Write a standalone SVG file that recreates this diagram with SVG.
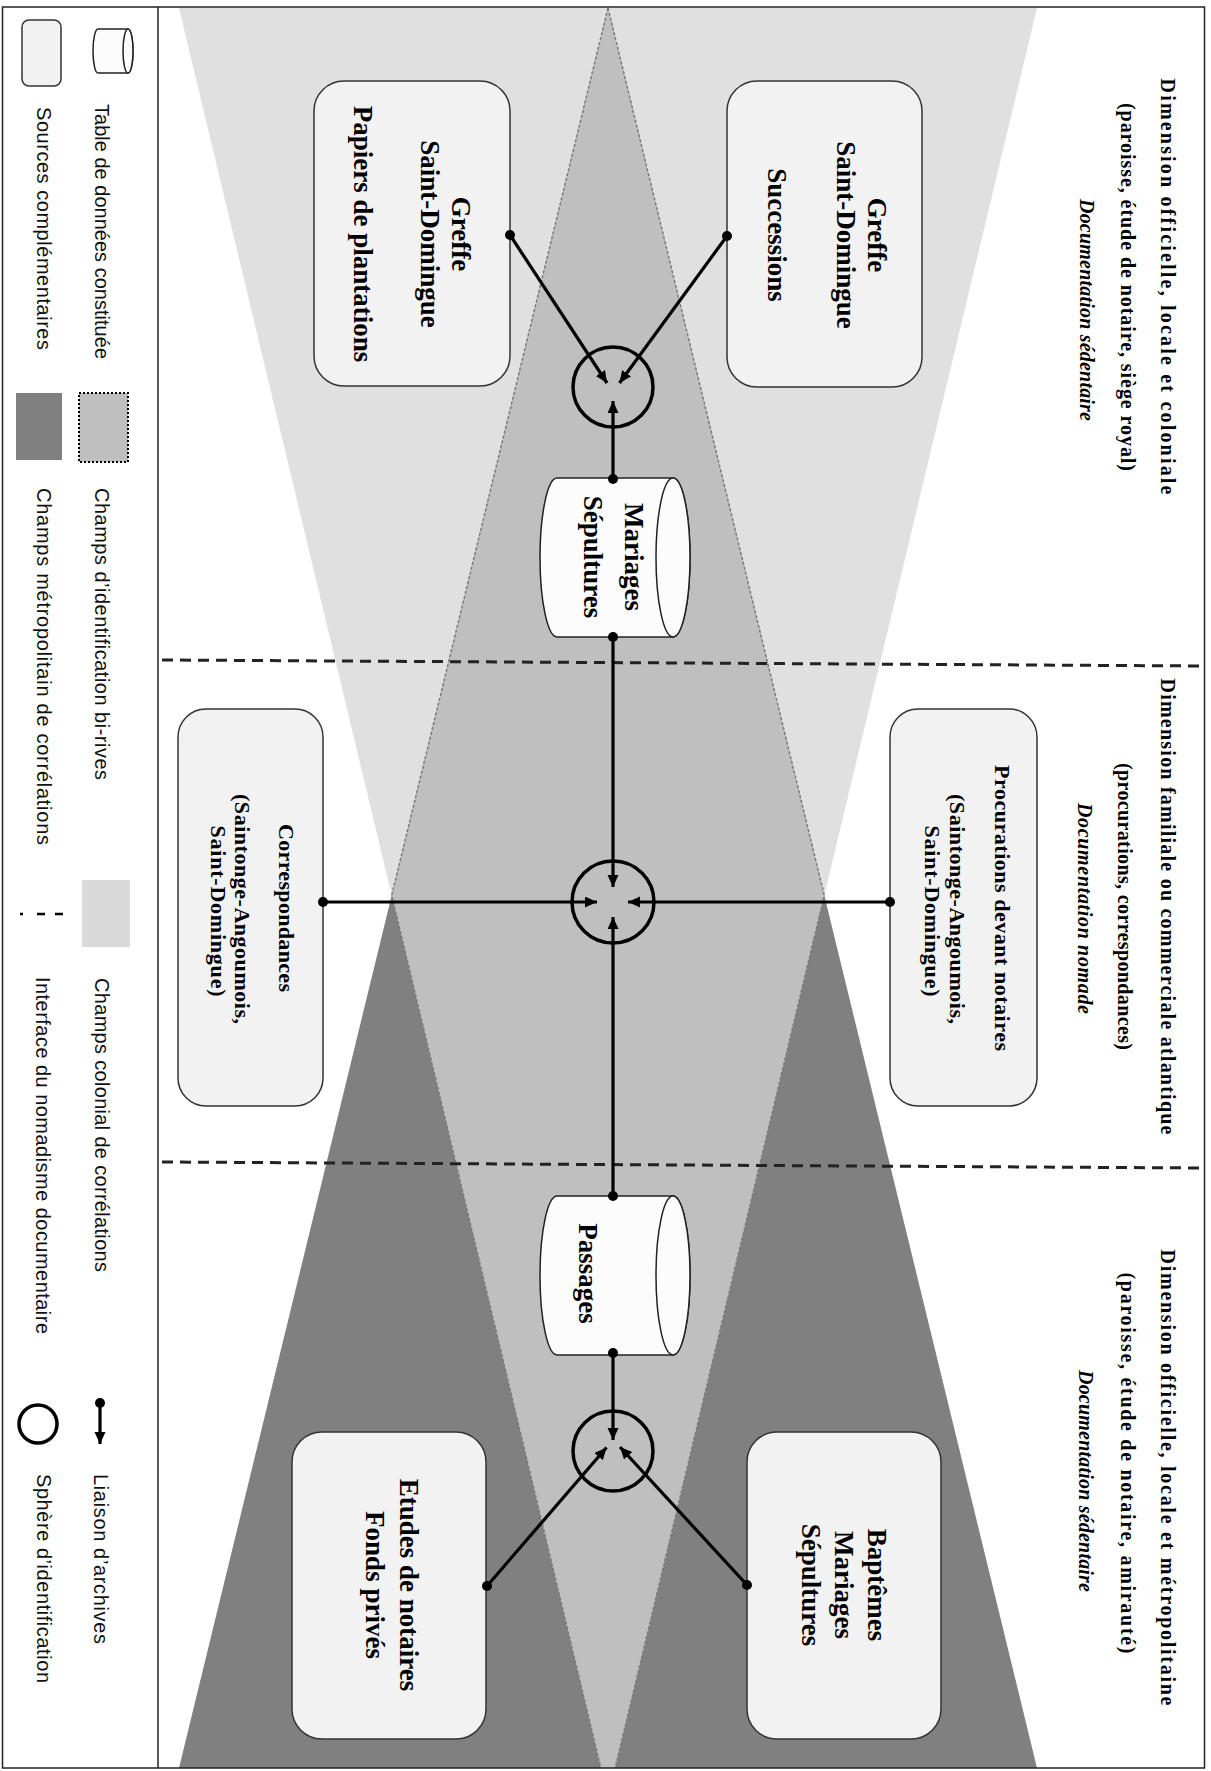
<svg xmlns="http://www.w3.org/2000/svg" width="1211" height="1771" viewBox="0 0 1211 1771">
<style>
.box{fill:#f2f2f2;stroke:#333;stroke-width:1.5}
.cyl{fill:#fcfcfc;stroke:#222;stroke-width:1.5}
.sph{fill:none;stroke:#000;stroke-width:3.5}
.t27{font-family:"Liberation Serif","Times New Roman",serif;font-weight:bold;font-size:27px;fill:#000}
.t22{font-family:"Liberation Serif","Times New Roman",serif;font-weight:bold;font-size:22px;fill:#000}
.hdr{font-family:"Liberation Serif","Times New Roman",serif;font-weight:bold;font-size:20px;fill:#000}
.hdi{font-family:"Liberation Serif","Times New Roman",serif;font-weight:bold;font-style:italic;font-size:20px;fill:#000}
.leg{font-family:"Liberation Sans",Arial,sans-serif;font-size:20px;fill:#111}
.link{stroke:#000;stroke-width:3.2;fill:none}
.dash{stroke:#222;stroke-width:3;stroke-dasharray:11 7;fill:none}
</style>
<defs>
<clipPath id="panel"><rect x="158" y="7" width="1046" height="1761"/></clipPath>
<marker id="dot" markerWidth="12" markerHeight="12" refX="6" refY="6" markerUnits="userSpaceOnUse"><circle cx="6" cy="6" r="5" fill="#000"/></marker>
<marker id="arr" markerWidth="14" markerHeight="12" refX="12" refY="5.5" orient="auto" markerUnits="userSpaceOnUse"><path d="M0,0 L12,5.5 L0,11 Z" fill="#000"/></marker>
</defs>
<rect x="0" y="0" width="1211" height="1771" fill="#fff"/>

<g id="fields" clip-path="url(#panel)">
<polygon points="179,8 1037,8 608,1798" fill="#e0e0e0"/>
<polygon points="608,8 1037,1768 179,1768" fill="#808080"/>
<polygon points="608,8 824.3,895.4 608,1798 391.7,895.4" fill="#bfbfbf" stroke="#7a7a7a" stroke-width="1.5" stroke-dasharray="3 2"/>
</g>

<g id="frame" fill="none" stroke="#222" stroke-width="1.5">
<rect x="2.5" y="7" width="1202" height="1761"/>
<line x1="158" y1="7" x2="158" y2="1768"/>
</g>

<g id="interfaces">
<line class="dash" x1="162" y1="660" x2="1204" y2="666"/>
<line class="dash" x1="162" y1="1162" x2="1204" y2="1168"/>
</g>

<g id="headers">
<text class="hdr" transform="translate(1161,78.5) rotate(90)" textLength="416" lengthAdjust="spacing">Dimension officielle, locale et coloniale</text>
<text class="hdr" transform="translate(1121,103) rotate(90)" textLength="368" lengthAdjust="spacing">(paroisse, étude de notaire, siège royal)</text>
<text class="hdi" transform="translate(1080,199) rotate(90)" textLength="222" lengthAdjust="spacing">Documentation sédentaire</text>
<text class="hdr" transform="translate(1161,678.5) rotate(90)" textLength="456" lengthAdjust="spacing">Dimension familiale ou commerciale atlantique</text>
<text class="hdr" transform="translate(1118,763) rotate(90)" textLength="287" lengthAdjust="spacing">(procurations, correspondances)</text>
<text class="hdi" transform="translate(1078,803) rotate(90)" textLength="211" lengthAdjust="spacing">Documentation nomade</text>
<text class="hdr" transform="translate(1161,1249.5) rotate(90)" textLength="456" lengthAdjust="spacing">Dimension officielle, locale et métropolitaine</text>
<text class="hdr" transform="translate(1121,1272.5) rotate(90)" textLength="381" lengthAdjust="spacing">(paroisse, étude de notaire, amirauté)</text>
<text class="hdi" transform="translate(1079,1370) rotate(90)" textLength="222" lengthAdjust="spacing">Documentation sédentaire</text>
</g>

<g id="n-greffe-papiers">
<rect class="box" x="314" y="81" width="196" height="305" rx="30"/>
<text class="t27" text-anchor="middle" transform="translate(452,234) rotate(90)">Greffe</text>
<text class="t27" text-anchor="middle" transform="translate(421,234) rotate(90)">Saint-Domingue</text>
<text class="t27" text-anchor="middle" transform="translate(354,234) rotate(90)">Papiers de plantations</text>
</g>

<g id="n-greffe-successions">
<rect class="box" x="727" y="81" width="195" height="306" rx="30"/>
<text class="t27" text-anchor="middle" transform="translate(868,235) rotate(90)">Greffe</text>
<text class="t27" text-anchor="middle" transform="translate(837,235) rotate(90)">Saint-Domingue</text>
<text class="t27" text-anchor="middle" transform="translate(768,235) rotate(90)">Successions</text>
</g>

<g id="n-mariages-sepultures">
<path class="cyl" d="M557,478 L673,478 A17,79.5 0 0 1 673,637 L557,637 A17,79.5 0 0 1 557,478 Z"/>
<ellipse class="cyl" cx="673" cy="557.5" rx="17" ry="79.5"/>
<text class="t27" text-anchor="middle" transform="translate(625,557) rotate(90)">Mariages</text>
<text class="t27" text-anchor="middle" transform="translate(584,557) rotate(90)">Sépultures</text>
</g>

<g id="n-correspondances">
<rect class="box" x="178" y="709" width="145" height="397" rx="28"/>
<text class="t22" text-anchor="middle" transform="translate(279,908) rotate(90)" textLength="168" lengthAdjust="spacing">Correspondances</text>
<text class="t22" text-anchor="middle" transform="translate(235,909) rotate(90)" textLength="230" lengthAdjust="spacing">(Saintonge-Angoumois,</text>
<text class="t22" text-anchor="middle" transform="translate(211,911) rotate(90)" textLength="171" lengthAdjust="spacing">Saint-Domingue)</text>
</g>

<g id="n-procurations">
<rect class="box" x="890" y="709" width="147" height="397" rx="28"/>
<text class="t22" text-anchor="middle" transform="translate(995,908) rotate(90)" textLength="286" lengthAdjust="spacing">Procurations devant notaires</text>
<text class="t22" text-anchor="middle" transform="translate(950,909) rotate(90)" textLength="230" lengthAdjust="spacing">(Saintonge-Angoumois,</text>
<text class="t22" text-anchor="middle" transform="translate(925,911) rotate(90)" textLength="171" lengthAdjust="spacing">Saint-Domingue)</text>
</g>

<g id="n-passages">
<path class="cyl" d="M557,1196 L673,1196 A17,79.5 0 0 1 673,1355 L557,1355 A17,79.5 0 0 1 557,1196 Z"/>
<ellipse class="cyl" cx="673" cy="1275.5" rx="17" ry="79.5"/>
<text class="t27" text-anchor="middle" transform="translate(579,1273.5) rotate(90)">Passages</text>
</g>

<g id="n-etudes">
<rect class="box" x="292" y="1432" width="194" height="307" rx="30"/>
<text class="t27" text-anchor="middle" transform="translate(400,1585) rotate(90)">Etudes de notaires</text>
<text class="t27" text-anchor="middle" transform="translate(366,1585) rotate(90)">Fonds privés</text>
</g>

<g id="n-baptemes">
<rect class="box" x="747" y="1432" width="194" height="307" rx="30"/>
<text class="t27" text-anchor="middle" transform="translate(868,1585) rotate(90)">Baptêmes</text>
<text class="t27" text-anchor="middle" transform="translate(835,1585) rotate(90)">Mariages</text>
<text class="t27" text-anchor="middle" transform="translate(802,1585) rotate(90)">Sépultures</text>
</g>

<g id="n-sphere-top"><circle class="sph" cx="613" cy="387" r="40"/></g>
<g id="n-sphere-mid"><circle class="sph" cx="613" cy="902" r="41"/></g>
<g id="n-sphere-bottom"><circle class="sph" cx="613" cy="1451" r="40"/></g>

<g id="connectors" class="link">
<line x1="510" y1="235" x2="607" y2="383" marker-start="url(#dot)" marker-end="url(#arr)"/>
<line x1="727" y1="236" x2="619.5" y2="383" marker-start="url(#dot)" marker-end="url(#arr)"/>
<line x1="613" y1="479" x2="613" y2="401" marker-start="url(#dot)" marker-end="url(#arr)"/>
<line x1="613" y1="637" x2="613" y2="887" marker-start="url(#dot)" marker-end="url(#arr)"/>
<line x1="323" y1="902" x2="597" y2="902" marker-start="url(#dot)" marker-end="url(#arr)"/>
<line x1="890" y1="902" x2="628" y2="902" marker-start="url(#dot)" marker-end="url(#arr)"/>
<line x1="613" y1="1196" x2="613" y2="917" marker-start="url(#dot)" marker-end="url(#arr)"/>
<line x1="613" y1="1353" x2="613" y2="1440" marker-start="url(#dot)" marker-end="url(#arr)"/>
<line x1="487" y1="1586" x2="606.5" y2="1447.5" marker-start="url(#dot)" marker-end="url(#arr)"/>
<line x1="747" y1="1585" x2="620" y2="1447" marker-start="url(#dot)" marker-end="url(#arr)"/>
</g>

<g id="legend">
<path class="cyl" d="M98,29 L128,29 A5,22 0 0 1 128,73 L98,73 A5,22 0 0 1 98,29 Z"/>
<ellipse class="cyl" cx="128" cy="51" rx="5" ry="22"/>
<rect class="box" x="22" y="20" width="39" height="66" rx="7"/>
<text class="leg" transform="translate(95,104) rotate(90)" textLength="255" lengthAdjust="spacing">Table de données constituée</text>
<text class="leg" transform="translate(37,107) rotate(90)" textLength="243" lengthAdjust="spacing">Sources complémentaires</text>
<rect x="79" y="393" width="49" height="69" fill="#bfbfbf" stroke="#000" stroke-width="2" stroke-dasharray="2 2"/>
<rect x="16" y="393" width="46" height="67" fill="#808080"/>
<text class="leg" transform="translate(95,488) rotate(90)" textLength="292" lengthAdjust="spacing">Champs d’identification bi-rives</text>
<text class="leg" transform="translate(37,488) rotate(90)" textLength="357" lengthAdjust="spacing">Champs métropolitain de corrélations</text>
<rect x="82" y="880" width="48" height="67" fill="#d9d9d9"/>
<line x1="20" y1="914" x2="63" y2="914" stroke="#000" stroke-width="2.5" stroke-dasharray="3 14 8 10 8 100"/>
<text class="leg" transform="translate(95,978) rotate(90)" textLength="294" lengthAdjust="spacing">Champs colonial de corrélations</text>
<text class="leg" transform="translate(36,977) rotate(90)" textLength="357" lengthAdjust="spacing">Interface du nomadisme documentaire</text>
<line class="link" x1="100" y1="1403" x2="100" y2="1444" marker-start="url(#dot)" marker-end="url(#arr)"/>
<circle class="sph" cx="38" cy="1424" r="19"/>
<text class="leg" transform="translate(94,1474) rotate(90)" textLength="170" lengthAdjust="spacing">Liaison d’archives</text>
<text class="leg" transform="translate(37,1474) rotate(90)" textLength="209" lengthAdjust="spacing">Sphère d’identification</text>
</g>
</svg>
